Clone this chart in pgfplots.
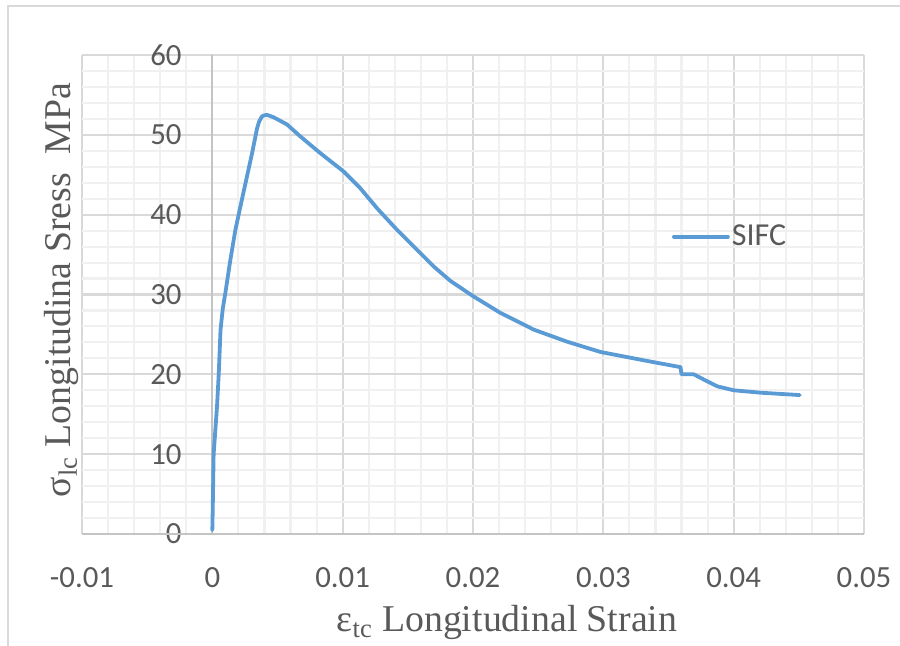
\documentclass[border=0pt]{standalone}
\usepackage{pgfplots}
\pgfplotsset{compat=1.18}
\usepackage{fontspec}
\setmainfont{Carlito}
\newfontfamily\timesfont{Liberation Serif}
\definecolor{excelblue}{HTML}{5B9BD5}
\definecolor{majorgrid}{HTML}{D9D9D9}
\definecolor{minorgrid}{HTML}{F0F0F0}
\definecolor{axisgray}{HTML}{C4C4C4}
\definecolor{labelgray}{HTML}{595959}

\begin{document}
\begin{tikzpicture}
\useasboundingbox (0,0) rectangle (450pt,323pt);
% chart frame
\draw[majorgrid, line width=0.8pt] (4pt,-5pt) -- (4pt,320pt) -- (455pt,320pt);
\begin{axis}[
  at={(41pt,56pt)}, anchor=south west,
  scale only axis, width=391pt, height=239.5pt,
  xmin=-0.01, xmax=0.05, ymin=0, ymax=60,
  scaled x ticks=false, scaled y ticks=false,
  xtick={-0.01,0,0.01,0.02,0.03,0.04,0.05},
  xticklabels={-0.01,0,0.01,0.02,0.03,0.04,0.05},
  ytick={0,10,20,30,40,50,60},
  yticklabels={0,10,20,30,40,50,60},
  minor xtick={-0.008,-0.006,-0.004,-0.002,
    0.002,0.004,0.006,0.008, 0.012,0.014,0.016,0.018,
    0.022,0.024,0.026,0.028, 0.032,0.034,0.036,0.038,
    0.042,0.044,0.046,0.048},
  minor ytick={2,4,6,8,12,14,16,18,22,24,26,28,32,34,36,38,42,44,46,48,52,54,56,58},
  grid=both,
  major grid style={majorgrid, line width=1.05pt},
  minor grid style={minorgrid, line width=1.05pt},
  axis line style={draw=none},
  tick style={draw=none},
  major tick length=0pt, minor tick length=0pt,
  xticklabel style={font=\fontsize{15.4}{18}\selectfont, text=labelgray,
    inner sep=0pt, anchor=north, yshift=-16.5pt},
  yticklabel style={font=\fontsize{15.4}{18}\selectfont, text=labelgray,
    inner sep=0pt, anchor=east, xshift=50pt},
  legend style={at={(0.754,0.6207)}, anchor=west, draw=none, fill=none,
    inner sep=0pt, nodes={inner sep=1pt},
    font=\fontsize{16}{19}\selectfont, text=labelgray},
  legend image code/.code={\draw[#1] (0pt,0pt) -- (27pt,0pt);},
  clip=false,
]
% value axes crossing at the origin
\draw[axisgray, line width=1.05pt] (axis cs:0,0) -- (axis cs:0,60);
\draw[axisgray, line width=1.05pt] (axis cs:-0.01,0) -- (axis cs:0.05,0);

\addplot[excelblue, line width=1.9pt, line join=round, line cap=round] coordinates {
  (0,0.5) (0.00003,3) (0.0001,10) (0.00036,16) (0.00049,20) (0.00063,25.6)
  (0.0008,28.2) (0.0010,30.2) (0.00138,34.3) (0.00177,38.1) (0.00215,41.0)
  (0.00266,44.8) (0.00305,47.7) (0.00343,50.8) (0.0036,51.7)
  (0.00381,52.3) (0.0040,52.45) (0.0042,52.5) (0.0047,52.2) (0.00573,51.3)
  (0.00675,49.8) (0.00829,47.7) (0.01008,45.4) (0.01136,43.3)
  (0.01264,40.8) (0.01417,38.1) (0.01571,35.6) (0.01699,33.5)
  (0.01827,31.7) (0.0200,29.8) (0.0221,27.7) (0.02466,25.6)
  (0.0272,24.1) (0.02978,22.8) (0.03361,21.6) (0.03592,20.9) (0.03600,20.0)
  (0.03694,20.0) (0.0380,19.1) (0.03873,18.5) (0.04001,18.0) (0.04206,17.7)
  (0.04507,17.4)
};
\addlegendentry{SIFC}
\end{axis}
% axis titles
\node[rotate=90, anchor=base, text=labelgray,
  font=\timesfont\fontsize{18.9}{22}\selectfont] at (35.25pt,178pt)
  {σ\textsubscript{lc} Longitudina Sress\ \ MPa};
\node[anchor=base, text=labelgray,
  font=\timesfont\fontsize{18.9}{22}\selectfont] at (253.5pt,7pt)
  {ε\textsubscript{tc} Longitudinal Strain};
\end{tikzpicture}
\end{document}
